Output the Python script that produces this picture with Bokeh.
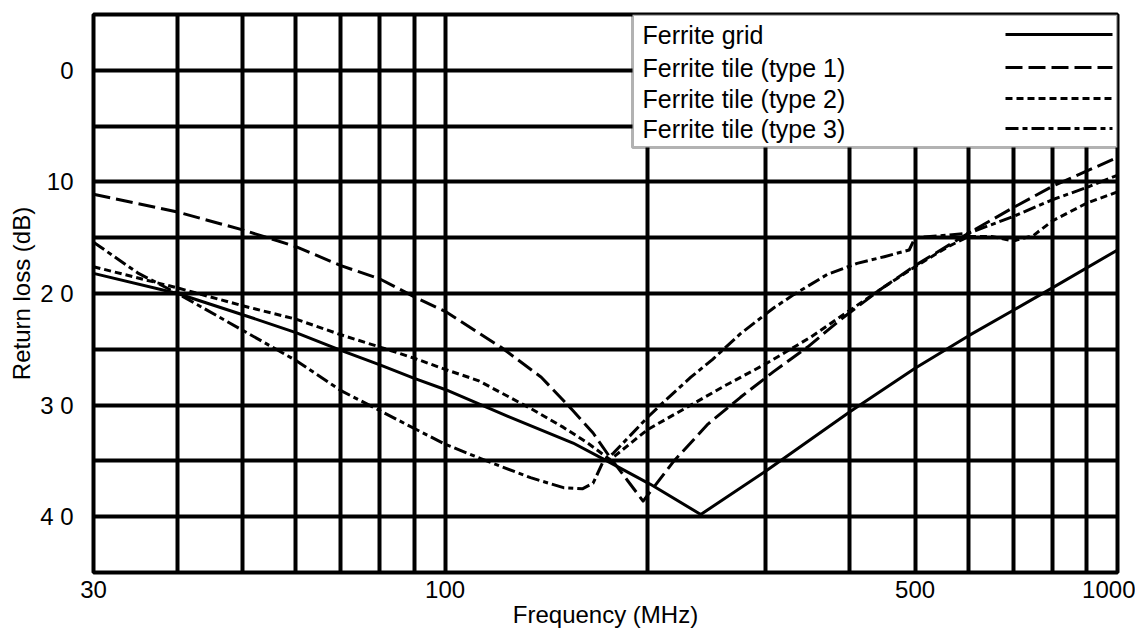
from bokeh.plotting import figure
from bokeh.models import (Range1d, FixedTicker, PrintfTickFormatter, BoxAnnotation,
                          Label, Arrow)
from bokeh.embed import file_html
from bokeh.resources import INLINE

FONT = "Liberation Sans"

# ---------------- data ----------------
freq_grid = [30, 40, 50, 60, 70, 80, 90, 100, 124, 155, 174, 202, 240, 300, 400,
             500, 600, 700, 800, 1000]
rl_grid = [18.2, 20.0, 21.9, 23.5, 25.1, 26.4, 27.6, 28.6, 31.0, 33.4, 35.0, 37.1,
           39.8, 35.9, 30.6, 26.7, 23.8, 21.5, 19.5, 16.1]

freq_t1 = [30, 40, 50, 60, 70, 80, 90, 100, 121, 139, 155, 166, 176, 187, 197, 219,
           246, 275, 308, 346, 388, 445, 500, 600, 700, 800, 1000]
rl_t1 = [11.1, 12.7, 14.3, 15.8, 17.5, 18.7, 20.3, 21.6, 24.8, 27.5, 30.5, 32.5,
         34.7, 36.8, 38.6, 35.0, 31.7, 29.3, 27.0, 24.8, 22.3, 19.6, 17.5, 14.6,
         12.3, 10.4, 7.8]

freq_t2 = [30, 40, 50, 60, 70, 80, 90, 100, 112, 134, 150, 163, 176, 200, 232, 260,
           300, 350, 400, 450, 500, 560, 600, 650, 700, 750, 800, 900, 1000]
rl_t2 = [17.6, 19.5, 21.1, 22.3, 23.7, 24.8, 25.8, 26.8, 27.8, 30.3, 32.0, 33.4,
         34.9, 32.2, 30.0, 28.3, 26.3, 23.9, 21.5, 19.4, 17.6, 15.8, 14.9, 14.9,
         15.3, 14.8, 13.5, 11.9, 10.9]

freq_t3 = [30, 35, 40, 50, 60, 70, 80, 90, 100, 113, 134, 150, 160, 166, 172, 178,
           200, 209, 232, 250, 275, 308, 330, 370, 410, 450, 490, 500, 550, 600,
           700, 800, 900, 1000]
rl_t3 = [15.4, 18.2, 20.0, 23.3, 26.0, 28.7, 30.5, 32.1, 33.5, 34.8, 36.5, 37.4,
         37.5, 37.0, 35.0, 34.3, 31.1, 30.0, 27.5, 25.9, 23.6, 21.3, 20.1, 18.3,
         17.3, 16.7, 16.1, 15.0, 14.8, 14.6, 13.1, 11.6, 10.5, 9.4]

series_labels = ["Ferrite grid", "Ferrite tile (type 1)", "Ferrite tile (type 2)",
                 "Ferrite tile (type 3)"]

x_tick_values = [30, 100, 500, 1000]
x_grid_values = [30, 40, 50, 60, 70, 80, 90, 100, 200, 300, 400, 500, 600, 700,
                 800, 900, 1000]
y_tick_values = [0, 10, 20, 30, 40]
y_tick_labels = ["0", "10", "2 0", "3 0", "4 0"]
y_grid_values = [-5, 0, 5, 10, 15, 20, 25, 30, 35, 40, 45]

x_title = "Frequency (MHz)"
y_title = "Return loss (dB)"

# ---------------- figure ----------------
W, H = 1135, 632
p = figure(width=W, height=H, x_axis_type="log",
           x_range=Range1d(30, 1000), y_range=Range1d(45, -5),
           output_backend="svg", toolbar_location=None,
           min_border_left=93, min_border_right=18, min_border_top=14,
           min_border_bottom=60,
           x_axis_label=x_title, y_axis_label=y_title)
p.background_fill_color = "white"
p.border_fill_color = "white"
p.outline_line_color = "black"
p.outline_line_width = 4

# grid
p.xgrid.ticker = FixedTicker(ticks=x_grid_values)
p.ygrid.ticker = FixedTicker(ticks=y_grid_values)
for g in (p.xgrid[0], p.ygrid[0]):
    g.grid_line_color = "black"
    g.grid_line_width = 4
    g.grid_line_alpha = 1.0

# axes
p.xaxis.ticker = FixedTicker(ticks=x_tick_values)
p.xaxis.formatter = PrintfTickFormatter(format="%d")
p.yaxis.ticker = FixedTicker(ticks=y_tick_values)
p.yaxis.major_label_overrides = dict(zip(y_tick_values, y_tick_labels))
for ax in (p.xaxis[0], p.yaxis[0]):
    ax.axis_line_color = None
    ax.major_tick_line_color = None
    ax.minor_tick_line_color = None
    ax.major_tick_out = 0
    ax.major_tick_in = 0
    ax.minor_tick_out = 0
    ax.minor_tick_in = 0
    ax.major_label_text_font = FONT
    ax.major_label_text_font_size = "24px"
    ax.major_label_text_color = "black"
    ax.axis_label_text_font = FONT
    ax.axis_label_text_font_size = "24px"
    ax.axis_label_text_font_style = "normal"
    ax.axis_label_text_color = "black"
p.xaxis.major_label_standoff = 8
p.xaxis.axis_label_standoff = 0
p.yaxis.major_label_standoff = 20
p.yaxis.axis_label_standoff = 2

# series
styles = ["solid", "17 6", "7 4", "13 4 5 4"]
series = [(freq_grid, rl_grid), (freq_t1, rl_t1), (freq_t2, rl_t2), (freq_t3, rl_t3)]
for (fx, fy), dash in zip(series, styles):
    p.line(fx, fy, line_color="black", line_width=3, line_join="round",
           line_dash=dash)

# ---------------- legend (text left, line sample right) ----------------
box = BoxAnnotation(left=632, right=1117, top=14, bottom=147,
                    left_units="canvas", right_units="canvas",
                    top_units="canvas", bottom_units="canvas",
                    fill_color="white", fill_alpha=1.0,
                    line_color="black", line_width=3)
p.add_layout(box)
row_y = [34, 67, 98, 128]
for lab, dash, ry in zip(series_labels, styles, row_y):
    p.add_layout(Label(x=642, y=ry, x_units="canvas", y_units="canvas", text=lab,
                       text_font=FONT, text_font_size="25px", text_color="black",
                       text_baseline="middle", text_align="left"))
    p.add_layout(Arrow(x_start=1005, y_start=ry, x_end=1112, y_end=ry,
                       start_units="canvas", end_units="canvas",
                       start=None, end=None, line_color="black", line_width=3,
                       line_dash=dash))

open("out.html", "w").write(file_html(p, INLINE))
